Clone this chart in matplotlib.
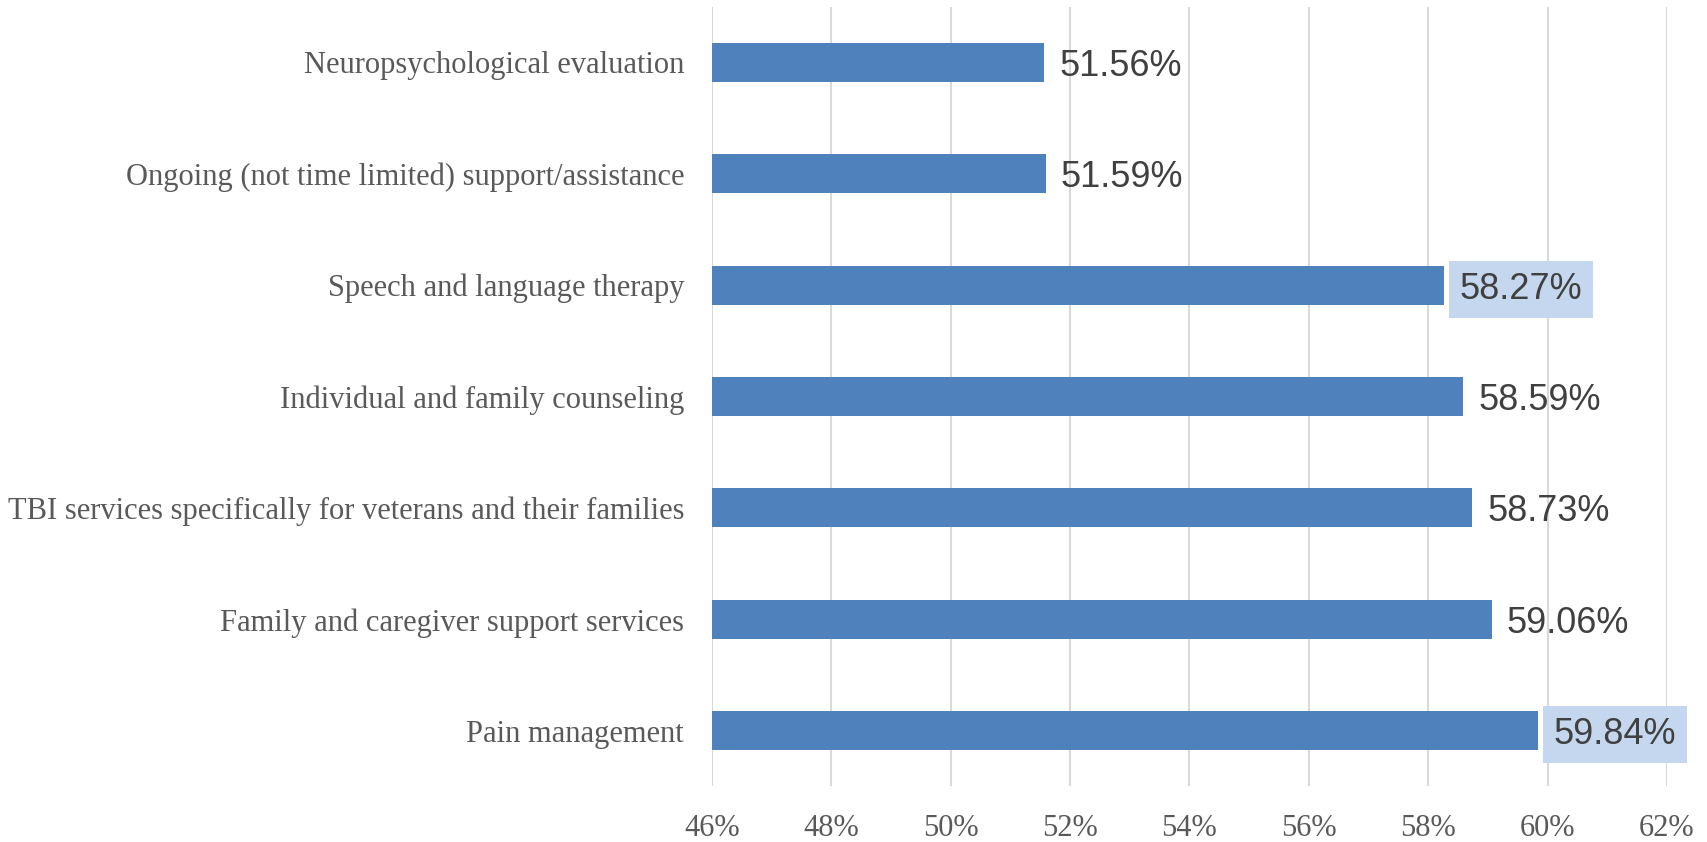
import matplotlib.pyplot as plt
from matplotlib.ticker import FuncFormatter

# categories listed bottom to top
categories = [
    "Pain management",
    "Family and caregiver support services",
    "TBI services specifically for veterans and their families",
    "Individual and family counseling",
    "Speech and language therapy",
    "Ongoing (not time limited) support/assistance",
    "Neuropsychological evaluation",
]
values = [59.84, 59.06, 58.73, 58.59, 58.27, 51.59, 51.56]
highlighted = [True, False, False, False, True, False, False]
x_ticks = [46, 48, 50, 52, 54, 56, 58, 60, 62]

fig = plt.figure(figsize=(17.07, 8.42), dpi=100)
ax = fig.add_axes([0.417, 0.066, 0.5596, 0.926])

pos = range(len(categories))
ax.barh(pos, values, height=0.35, color="#4F81BD", left=0, zorder=3)

ax.set_xlim(46, 62)
ax.set_ylim(-0.5, len(categories) - 0.5)
ax.set_xticks(x_ticks)
ax.xaxis.set_major_formatter(FuncFormatter(lambda v, p: f"{v:.0f}%"))
ax.set_yticks(list(pos))
ax.set_yticklabels(categories)

for lab in ax.get_yticklabels() + ax.get_xticklabels():
    lab.set_fontfamily("Liberation Serif")
    lab.set_fontsize(22)
    lab.set_color("#595959")

ax.tick_params(axis="y", length=0, pad=20)
ax.tick_params(axis="x", length=0, pad=20)
ax.grid(axis="x", color="#D9D9D9", linewidth=1.5, zorder=0)
for s in ax.spines.values():
    s.set_visible(False)

for i, (v, hl) in enumerate(zip(values, highlighted)):
    bbox = dict(boxstyle="square,pad=0.3", facecolor="#C5D7EE", edgecolor="none") if hl else None
    ax.annotate(f"{v:.2f}%", xy=(v, i), xytext=(11, 0), textcoords="offset points",
                ha="left", va="center_baseline", fontsize=26, color="#404040",
                family="Liberation Sans", bbox=bbox, annotation_clip=False, zorder=4)

fig.savefig("out.png", dpi=100)
